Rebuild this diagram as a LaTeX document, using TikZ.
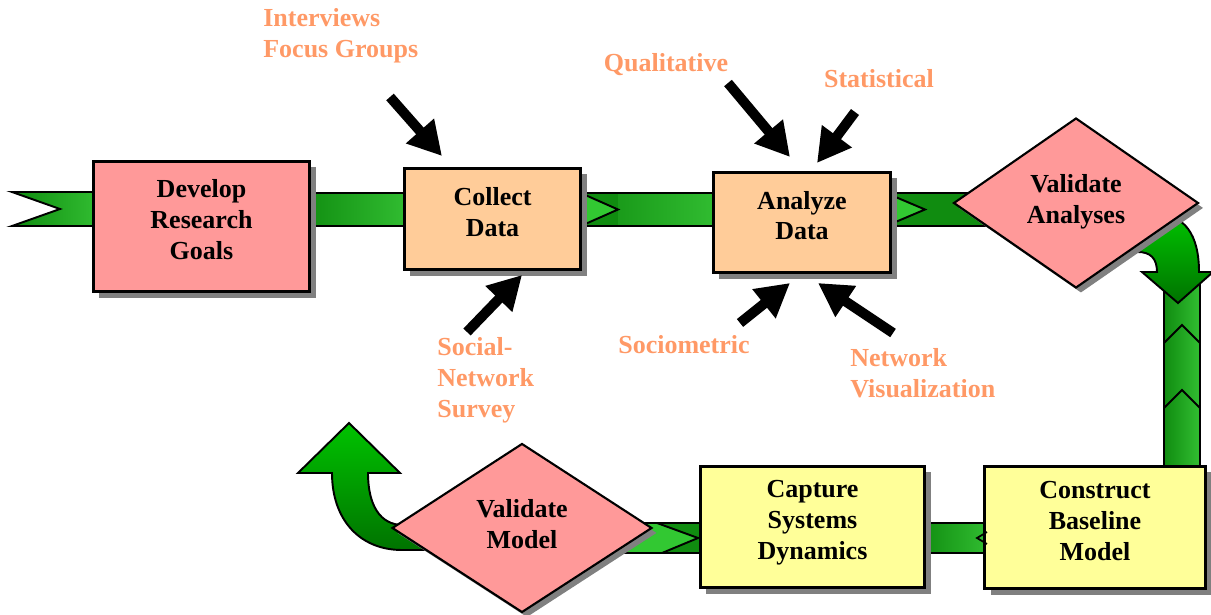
\documentclass[tikz,border=0pt]{standalone}
\usepackage{fontspec}
\setmainfont{Liberation Serif}
\usetikzlibrary{arrows.meta,shapes.geometric,shadows}

\definecolor{boxpink}{RGB}{255,153,153}
\definecolor{boxpeach}{RGB}{255,204,153}
\definecolor{boxyellow}{RGB}{255,255,153}
\definecolor{labelorange}{RGB}{255,153,102}
\definecolor{pipedark}{RGB}{16,140,16}
\definecolor{pipelite}{RGB}{50,190,50}
\definecolor{chevlite}{RGB}{50,200,50}
\definecolor{bendtop}{RGB}{0,195,0}
\definecolor{bendbot}{RGB}{0,115,0}

\begin{document}
\begin{tikzpicture}[x=0.02cm,y=-0.02cm,
  font=\fontsize{14.8}{17.6}\selectfont\bfseries,
  stepbox/.style={rectangle,draw,line width=1.7pt,align=center,text depth=8pt,
    general shadow={fill=gray,shadow xshift=3.4pt,shadow yshift=-3.4pt}},
  checkbox/.style={diamond,draw,line width=1.2pt,fill=boxpink,align=center,
    inner sep=0pt,aspect=1.4,text depth=5pt,
    general shadow={fill=gray,shadow xshift=2.8pt,shadow yshift=-2.8pt}},
  pipe/.style={draw,line width=1.1pt,left color=pipedark,right color=pipelite},
  chev/.style={draw,line width=1.1pt,fill=chevlite},
  uturn/.style={draw,line width=1.1pt,top color=bendtop,bottom color=bendbot},
  method/.style={text=labelorange,align=left,inner sep=0pt},
  feed/.style={line width=5.7pt,-{Triangle[length=19pt,width=20pt]}}]

\useasboundingbox (0,0) rectangle (1211,615);

% the green pipe, top row
\path[pipe] (12,192) -- (100,192) -- (100,226) -- (12,226) -- (60,209) -- cycle;
\path[pipe] (300,193) rectangle (410,226);
\path[pipe] (575,193) rectangle (720,226);
\fill[pipedark] (577,194) rectangle (618,225);
\path[chev] (583,194) -- (618,209.5) -- (583,225);
\path[draw,line width=1.1pt,fill=pipedark] (885,193) rectangle (990,226);
\path[chev] (892,195.5) -- (925,209.5) -- (892,223.5);

% down the right side
\path[pipe] (1164,280) rectangle (1200,470);
\draw[line width=1.1pt] (1164,343) -- (1182,325) -- (1200,343);
\draw[line width=1.1pt] (1164,408) -- (1182,390) -- (1200,408);
\path[uturn] (1120,214) -- (1155,214) .. controls (1185,214) and (1199,235) .. (1199,272)
  -- (1213,272) -- (1178,303) -- (1142,272) -- (1157,272)
  .. controls (1157,258) and (1150,252) .. (1138,252) -- (1120,252) -- cycle;

% bottom row
\path[pipe] (920,523) rectangle (990,553);
\path[draw,line width=1.1pt,fill=pipedark] (600,523) rectangle (705,553);
\path[chev] (600,523) -- (657,523) -- (698,538) -- (662,553) -- (600,553);
\path[uturn] (440,550) -- (402,550) .. controls (360,550) and (332,520) .. (332,473)
  -- (298,473) -- (349,423) -- (400,473) -- (368,473)
  .. controls (368,505) and (380,525) .. (403,525) -- (440,525) -- cycle;

% steps
\node[stepbox,fill=boxpink,minimum width=4.34cm,minimum height=2.62cm] (goals) at (201.5,226.5) {Develop\\Research\\Goals};
\node[stepbox,fill=boxpeach,minimum width=3.54cm,minimum height=2.04cm] (collect) at (492.5,219) {Collect\\Data};
\node[stepbox,fill=boxpeach,minimum width=3.56cm,minimum height=2.02cm] (analyze) at (802,222.5) {Analyze\\Data};
\node[checkbox,minimum width=4.9cm,minimum height=3.4cm] (checkana) at (1076,203) {Validate\\Analyses};
\node[stepbox,fill=boxyellow,minimum width=4.42cm,minimum height=2.46cm] (baseline) at (1095,527.5) {Construct\\Baseline\\Model};
\node[stepbox,fill=boxyellow,minimum width=4.5cm,minimum height=2.44cm] (dynamics) at (812.5,527) {Capture\\Systems\\Dynamics};
\node[checkbox,minimum width=5.2cm,minimum height=3.38cm] (checkmod) at (522,528) {Validate\\Model};
\draw[line width=1pt] (987,532) -- (977,538) -- (987,544);

% methods
\node[method,anchor=west] (talk) at (263,36) {Interviews\\Focus Groups};
\node[method] (qual) at (666,65) {Qualitative};
\node[method] (stat) at (879,79) {Statistical};
\node[method,anchor=west] (survey) at (437,380) {Social-\\Network\\Survey};
\node[method] (socio) at (684,345) {Sociometric};
\node[method,anchor=west] (netvis) at (850,373) {Network\\Visualization};

\coordinate (talk a) at (390,97);   \coordinate (talk b) at (442,156);
\coordinate (qual a) at (728,83);   \coordinate (qual b) at (790,157);
\coordinate (stat a) at (855,112);  \coordinate (stat b) at (817,163);
\coordinate (survey a) at (467,332); \coordinate (survey b) at (522,275);
\coordinate (socio a) at (740,323); \coordinate (socio b) at (790,283);
\coordinate (netvis a) at (893,333); \coordinate (netvis b) at (818,283);

\draw[feed] (talk a) -- (talk b);
\draw[feed] (qual a) -- (qual b);
\draw[feed] (stat a) -- (stat b);
\draw[feed] (survey a) -- (survey b);
\draw[feed] (socio a) -- (socio b);
\draw[feed] (netvis a) -- (netvis b);
\end{tikzpicture}
\end{document}
